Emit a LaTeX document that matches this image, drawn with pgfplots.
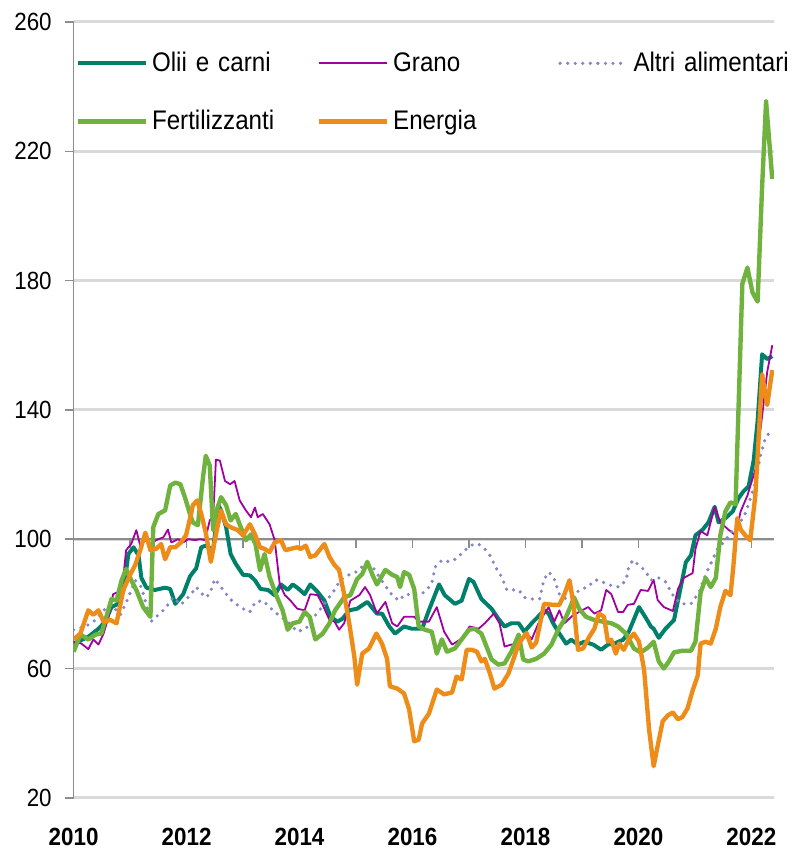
\documentclass[border=0pt]{standalone}
\usepackage{fontspec}
\setmainfont{Liberation Sans}[FakeStretch=0.9]
\usepackage{pgfplots}
\pgfplotsset{compat=1.18}

\definecolor{oliicol}{HTML}{00806A}
\definecolor{granocol}{HTML}{A000A0}
\definecolor{altricol}{HTML}{8286C6}
\definecolor{fertcol}{HTML}{70B23E}
\definecolor{enercol}{HTML}{EE8C1A}
\definecolor{gridcol}{HTML}{D9D9D9}
\definecolor{axiscol}{HTML}{8C8C8C}

\begin{document}
\begin{tikzpicture}
\begin{axis}[
    scale only axis,
    width=352pt, height=390pt,
    xmin=2010, xmax=2022.4,
    ymin=20, ymax=260,
    ytick={20,60,...,260},
    xtick={2010,2012,...,2022},
    /pgf/number format/1000 sep={},
    /pgf/number format/assume math mode=true,
    axis lines*=left,
    axis line style={-},
    x axis line style={draw=none},
    y axis line style={draw=axiscol, line width=0.7pt},
    ymajorgrids,
    grid style={gridcol, line width=1.5pt},
    tick align=outside,
    major tick length=4.5pt,
    xtick style={draw=none},
    ytick style={draw=axiscol, line width=0.7pt},
    x tick label style={font=\fontsize{12.5}{14}\selectfont\bfseries, yshift=-7pt},
    y tick label style={font=\fontsize{12.5}{14}\selectfont, xshift=-3pt},
    legend columns=3,
    legend cell align=left,
    legend style={at={(rel axis cs:0,1)}, anchor=north west,
        draw=none, fill=none, inner sep=0pt,
        yshift=-13pt, xshift=1pt,
        font=\fontsize{13.5}{16}\selectfont,
        row sep=14pt,
        /tikz/every even column/.append style={text width=81pt}},
    legend image code/.code={%
        \draw[mark repeat=2,mark phase=2,#1] plot coordinates {(0pt,0pt) (17pt,0pt) (34pt,0pt)};},
    line join=round,
]

% linea a 100 con le tacche degli anni
\draw[axiscol, line width=0.7pt] (axis cs:2010,100) -- (axis cs:2022.4,100);
\pgfplotsinvokeforeach{2011,2012,2013,2014,2015,2016,2017,2018,2019,2020,2021,2022}{
    \draw[axiscol, line width=0.7pt] (axis cs:#1,100) -- ++(0pt,-4.5pt);
}

% Olii e carni
\addplot[oliicol, line width=2pt] coordinates {
(2010.00,67.7) (2010.26,69.8) (2010.44,72.3) (2010.56,74.5) (2010.67,79) (2010.79,80)
(2010.88,84) (2010.97,95.4) (2011.06,97.5) (2011.15,95) (2011.20,88) (2011.29,85)
(2011.44,84.3) (2011.62,85) (2011.71,84.6) (2011.80,80) (2011.94,83) (2012.06,88.5)
(2012.17,91) (2012.26,97.5) (2012.34,98) (2012.47,96.6) (2012.56,110.5) (2012.61,109)
(2012.70,103.7) (2012.78,95.4) (2012.87,92.4) (2013.00,89) (2013.12,88.8) (2013.21,87.3)
(2013.31,84.6) (2013.44,84.3) (2013.56,82.7) (2013.67,86) (2013.79,84.3) (2013.88,86)
(2013.96,85) (2014.09,83) (2014.19,86) (2014.32,83.7) (2014.44,81) (2014.55,76)
(2014.67,74.5) (2014.76,75.4) (2014.88,78) (2015.02,78.5) (2015.20,80.6) (2015.37,77)
(2015.46,77) (2015.59,73) (2015.69,70.8) (2015.85,73) (2015.99,72.3) (2016.17,72.3)
(2016.29,78) (2016.47,86) (2016.57,82.7) (2016.75,80) (2016.87,81) (2017.00,87.7)
(2017.08,86.8) (2017.22,81.5) (2017.40,78.5) (2017.52,75.4) (2017.63,73) (2017.75,74)
(2017.88,74) (2017.98,71.4) (2018.11,74) (2018.19,75.4) (2018.33,78) (2018.41,77)
(2018.49,74) (2018.60,70.8) (2018.72,67.7) (2018.81,68.9) (2018.93,67.4) (2019.04,68.3)
(2019.20,67.4) (2019.34,65.8) (2019.46,67.4) (2019.57,67.7) (2019.73,68.9) (2019.83,71.4)
(2020.01,79) (2020.13,75.7) (2020.22,73) (2020.27,72.3) (2020.36,69.5) (2020.48,72.3)
(2020.63,75) (2020.71,81.8) (2020.84,92.9) (2020.93,95) (2021.01,101.2) (2021.14,103)
(2021.24,105.2) (2021.35,110) (2021.42,105.2) (2021.54,106.5) (2021.67,108.6) (2021.77,112.6)
(2021.86,114.8) (2021.95,116.3) (2022.04,124.3) (2022.11,136.6) (2022.19,157.2) (2022.28,155.7)
(2022.37,156.6)
};
\addlegendentry{Olii e carni}

% Grano
\addplot[granocol, line width=0.9pt] coordinates {
(2010.00,68.3) (2010.14,67.7) (2010.26,66) (2010.35,69) (2010.44,67.4) (2010.53,70.8)
(2010.62,76) (2010.70,83) (2010.79,83.7) (2010.88,88.3) (2010.93,96.6) (2011.02,98.5)
(2011.11,102.8) (2011.18,98) (2011.27,99.7) (2011.37,98.5) (2011.46,99.7) (2011.59,100.6)
(2011.67,103) (2011.73,99) (2011.85,100) (2011.94,99) (2012.03,100) (2012.15,99.7)
(2012.24,100) (2012.33,99.7) (2012.41,105.8) (2012.47,106.8) (2012.52,124.6) (2012.59,124.3)
(2012.68,118) (2012.77,117) (2012.85,118) (2012.94,112) (2013.05,108.9) (2013.14,106.8)
(2013.21,109.8) (2013.26,106.8) (2013.35,107.8) (2013.47,104.6) (2013.56,99.7) (2013.65,86)
(2013.74,82.7) (2013.84,81) (2013.96,78.5) (2014.09,78) (2014.19,83) (2014.32,82.7)
(2014.41,79.7) (2014.53,75) (2014.62,74.5) (2014.70,72) (2014.79,74) (2014.90,81)
(2015.06,82.7) (2015.16,85.2) (2015.25,82.7) (2015.37,77) (2015.52,80.6) (2015.64,74)
(2015.73,73) (2015.85,76) (2016.03,76) (2016.11,74.5) (2016.29,74.5) (2016.43,79)
(2016.56,71.4) (2016.70,67.4) (2016.87,69.2) (2017.01,73) (2017.17,72.3) (2017.28,74)
(2017.44,77) (2017.54,74) (2017.63,66.8) (2017.75,67.4) (2017.88,67.7) (2018.02,71)
(2018.11,69) (2018.23,74) (2018.41,79) (2018.51,74.5) (2018.60,78) (2018.69,74)
(2018.85,76.6) (2018.95,77.5) (2019.11,79) (2019.22,77) (2019.34,78) (2019.43,84.3)
(2019.52,83) (2019.64,77.5) (2019.73,77.5) (2019.81,79.7) (2019.92,80) (2020.04,84.3)
(2020.17,84) (2020.27,87.4) (2020.34,81.2) (2020.45,79) (2020.61,77.8) (2020.70,84.6)
(2020.80,88) (2020.96,89.5) (2021.01,97) (2021.10,102.5) (2021.22,101.2) (2021.35,110)
(2021.45,105.2) (2021.59,103) (2021.72,101.2) (2021.81,108.6) (2021.93,113.5) (2022.07,121.5)
(2022.19,138) (2022.28,151.7) (2022.37,160)
};
\addlegendentry{Grano}

% Altri alimentari
\addplot[altricol, line width=1.8pt, line cap=round, dash pattern=on 0pt off 3.8pt] coordinates {
(2010.00,72) (2010.21,73) (2010.39,75) (2010.53,78) (2010.67,79.7) (2010.83,76.6)
(2010.97,82) (2011.09,87.3) (2011.20,85.2) (2011.37,74.5) (2011.50,76.6) (2011.62,78.5)
(2011.76,82) (2011.90,79.7) (2012.08,83) (2012.17,85.2) (2012.33,82) (2012.41,83)
(2012.50,87.7) (2012.61,85.2) (2012.77,81.5) (2012.87,80) (2013.00,78.5) (2013.12,77.5)
(2013.22,80.6) (2013.35,81) (2013.47,79) (2013.56,77.5) (2013.67,76) (2013.82,74)
(2013.96,71.4) (2014.11,72.3) (2014.26,76) (2014.44,80) (2014.62,84.3) (2014.72,87.4)
(2014.88,89) (2015.02,90) (2015.16,92.4) (2015.32,90.8) (2015.50,86) (2015.64,82.7)
(2015.76,81) (2015.87,83) (2016.03,82.7) (2016.13,83) (2016.22,83.7) (2016.34,86.2)
(2016.40,91.4) (2016.52,93.5) (2016.66,93) (2016.78,94) (2016.93,96.6) (2017.05,98.2)
(2017.17,98.5) (2017.28,97) (2017.37,95) (2017.49,90.8) (2017.58,88.3) (2017.67,84.3)
(2017.79,84.3) (2017.88,84.3) (2017.98,82) (2018.11,81.5) (2018.25,81.5) (2018.33,87.7)
(2018.42,89.8) (2018.51,87.7) (2018.60,83) (2018.72,81.5) (2018.86,83) (2018.99,84.6)
(2019.11,85.2) (2019.22,87.3) (2019.30,87.4) (2019.43,86.2) (2019.55,85.5) (2019.66,85.2)
(2019.78,87.3) (2019.83,91.4) (2019.90,93.5) (2020.04,91.5) (2020.13,90) (2020.22,87.3)
(2020.36,88) (2020.48,86.8) (2020.61,82.7) (2020.75,80) (2020.93,80) (2021.07,83.4)
(2021.19,89) (2021.28,92.4) (2021.40,97) (2021.51,99) (2021.63,101.8) (2021.75,104.6)
(2021.86,106.5) (2021.95,110.8) (2022.07,117.5) (2022.16,125.8) (2022.25,131.4) (2022.37,134)
};
\addlegendentry{Altri alimentari}

% Fertilizzanti
\addplot[fertcol, line width=2.2pt] coordinates {
(2010.00,65.2) (2010.12,70.5) (2010.26,69) (2010.39,70.5) (2010.49,70.8) (2010.58,76)
(2010.67,81.5) (2010.76,81) (2010.85,87.3) (2010.93,90.8) (2011.02,87.3) (2011.11,84.3)
(2011.23,79) (2011.36,76) (2011.41,103.7) (2011.50,107.8) (2011.62,108.9) (2011.71,116.6)
(2011.80,117.5) (2011.89,117) (2011.97,113) (2012.06,107.8) (2012.11,105.2) (2012.20,104.3)
(2012.29,119) (2012.34,125.8) (2012.41,122.8) (2012.47,102.8) (2012.52,108.3) (2012.61,113)
(2012.70,110.5) (2012.78,105.8) (2012.87,107.8) (2012.96,103.7) (2013.05,99.7) (2013.14,101.5)
(2013.22,98.5) (2013.30,90.4) (2013.38,95.4) (2013.47,88.3) (2013.58,83) (2013.70,78)
(2013.79,72) (2013.88,74) (2014.00,74.5) (2014.09,77.5) (2014.18,76) (2014.28,69)
(2014.41,70.8) (2014.53,74) (2014.63,78) (2014.79,82) (2014.90,82.7) (2015.02,87.7)
(2015.11,89.2) (2015.20,93) (2015.29,89) (2015.37,86) (2015.52,90.5) (2015.64,89)
(2015.73,88.3) (2015.78,85.2) (2015.85,89.8) (2015.94,89) (2016.03,84.6) (2016.11,73)
(2016.22,72) (2016.34,71.4) (2016.43,64.6) (2016.52,69) (2016.61,65.2) (2016.75,66.2)
(2016.87,69) (2017.00,72) (2017.10,72.3) (2017.22,70.8) (2017.31,66.8) (2017.40,62.8)
(2017.52,61.2) (2017.63,61.6) (2017.75,65.2) (2017.88,70.5) (2017.96,62.8) (2018.05,62.2)
(2018.19,63) (2018.33,64.6) (2018.46,67.4) (2018.58,72) (2018.72,76) (2018.81,79.7)
(2018.86,82) (2018.95,78.5) (2019.07,76) (2019.22,75) (2019.37,74.5) (2019.52,74)
(2019.64,73) (2019.78,70.8) (2019.92,66.2) (2020.04,65) (2020.17,66.5) (2020.27,68.3)
(2020.36,62.2) (2020.45,60) (2020.54,62.2) (2020.63,65) (2020.78,65.5) (2020.93,65.5)
(2021.01,68.3) (2021.10,83.4) (2021.19,88) (2021.28,85.2) (2021.37,88) (2021.45,101.2)
(2021.54,108.6) (2021.63,111.4) (2021.72,110.8) (2021.84,179) (2021.93,184) (2022.02,176.3)
(2022.11,173.5) (2022.19,209) (2022.26,235.4) (2022.37,211.4)
};
\addlegendentry{Fertilizzanti}

% Energia
\addplot[enercol, line width=2.2pt] coordinates {
(2010.00,69) (2010.12,70.8) (2010.26,78) (2010.35,76.6) (2010.44,78) (2010.53,74.5)
(2010.65,75) (2010.76,74) (2010.88,84.3) (2011.00,89) (2011.09,92) (2011.18,96.6)
(2011.27,102) (2011.36,96.6) (2011.46,97) (2011.55,98.5) (2011.62,93.8) (2011.71,97.5)
(2011.80,97.5) (2011.90,99) (2011.99,101.2) (2012.08,107.8) (2012.11,110.5) (2012.19,112)
(2012.26,107.8) (2012.34,102) (2012.43,93) (2012.52,101.5) (2012.61,108.9) (2012.70,104.6)
(2012.78,103.7) (2012.91,102.8) (2013.00,101.2) (2013.12,104.6) (2013.21,101.5) (2013.30,97.5)
(2013.38,97) (2013.47,96) (2013.56,99) (2013.67,99.7) (2013.75,96.6) (2013.84,97)
(2013.96,97.5) (2014.02,97) (2014.11,98) (2014.19,94.5) (2014.28,95) (2014.44,98.5)
(2014.53,94.5) (2014.62,92) (2014.70,90.5) (2014.79,83) (2014.88,74) (2014.97,63.7)
(2015.02,55) (2015.11,64.6) (2015.23,66.2) (2015.36,70.8) (2015.46,67.7) (2015.55,63)
(2015.60,54.5) (2015.73,53.8) (2015.85,52.3) (2015.94,47.4) (2016.03,37.5) (2016.11,38)
(2016.17,43) (2016.29,46) (2016.43,53.5) (2016.56,52) (2016.70,52.6) (2016.78,57.5)
(2016.87,56.6) (2016.96,65.8) (2017.05,65.8) (2017.14,65.2) (2017.22,62.2) (2017.28,63)
(2017.37,58.5) (2017.45,53.8) (2017.58,55) (2017.70,58.5) (2017.79,63) (2017.88,67.7)
(2018.02,71) (2018.11,66.5) (2018.19,68) (2018.33,80) (2018.49,79.7) (2018.60,79.7)
(2018.69,83) (2018.78,87.3) (2018.85,80) (2018.93,65.8) (2019.02,66.2) (2019.13,69.8)
(2019.22,72.3) (2019.30,77) (2019.39,76) (2019.46,68.3) (2019.52,68.9) (2019.60,64.6)
(2019.66,67.7) (2019.74,65.8) (2019.83,68.9) (2019.92,70.8) (2020.01,68.3) (2020.10,59.7)
(2020.19,40.9) (2020.27,29.8) (2020.34,36) (2020.43,43.7) (2020.52,45.5) (2020.61,46.4)
(2020.70,44.3) (2020.78,45) (2020.87,47.7) (2020.96,53.2) (2021.05,57.8) (2021.10,67.7)
(2021.19,68.3) (2021.28,67.7) (2021.37,72.3) (2021.45,79) (2021.54,84) (2021.63,82.7)
(2021.68,91.4) (2021.75,106.5) (2021.81,103) (2021.89,101.2) (2021.98,99.7) (2022.07,113.5)
(2022.12,128.6) (2022.19,151) (2022.28,141.5) (2022.37,152.3)
};
\addlegendentry{Energia}

\end{axis}
\path ([xshift=-37pt,yshift=-25pt]current axis.south west) rectangle ([xshift=6pt,yshift=11pt]current axis.north east);
\end{tikzpicture}
\end{document}
